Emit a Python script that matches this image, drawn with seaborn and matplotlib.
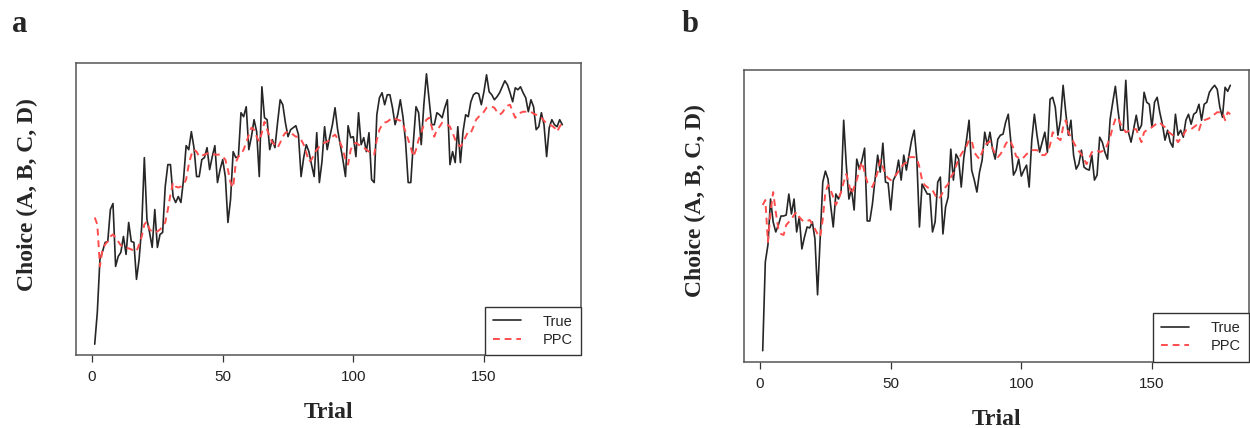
import matplotlib; matplotlib.use('Agg')
import numpy as np
import pandas as pd
import seaborn as sns
import matplotlib.pyplot as plt

# trial index shared by both panels
trials = list(range(1, 181))

# panel a: observed choice score vs posterior predictive check (arbitrary units)
true_a = [
    10, 42, 95, 103, 112, 113, 145, 151, 88, 98,
    102, 118, 100, 132, 113, 112, 75, 95, 128, 197,
    135, 122, 107, 145, 107, 120, 122, 168, 190, 190,
    158, 152, 158, 152, 175, 209, 205, 223, 207, 178,
    178, 195, 197, 207, 185, 198, 209, 172, 185, 195,
    178, 132, 155, 203, 197, 198, 242, 238, 248, 205,
    218, 235, 223, 178, 268, 237, 235, 205, 215, 207,
    232, 255, 250, 232, 218, 225, 227, 229, 220, 178,
    197, 210, 203, 190, 178, 222, 172, 193, 228, 205,
    218, 230, 247, 225, 210, 195, 178, 229, 217, 218,
    198, 242, 210, 217, 203, 222, 175, 172, 240, 257,
    262, 250, 260, 260, 247, 230, 240, 255, 238, 213,
    172, 172, 213, 248, 242, 210, 250, 281, 255, 230,
    230, 242, 240, 237, 247, 255, 190, 203, 192, 228,
    192, 223, 240, 238, 253, 260, 262, 261, 250, 263,
    280, 263, 260, 255, 258, 262, 268, 274, 270, 262,
    253, 267, 265, 268, 262, 257, 243, 255, 248, 225,
    228, 242, 230, 198, 227, 235, 230, 228, 235, 230,
]
ppc_a = [
    137, 130, 88, 105, 110, 113, 118, 120, 117, 113,
    109, 108, 107, 106, 105, 104, 103, 110, 118, 130,
    133, 125, 123, 122, 123, 125, 128, 132, 145, 160,
    172, 168, 167, 168, 170, 175, 190, 200, 205, 203,
    198, 199, 200, 201, 202, 201, 200, 200, 200, 198,
    195, 185, 172, 167, 192, 198, 200, 205, 212, 220,
    227, 225, 218, 213, 222, 233, 225, 218, 212, 210,
    207, 212, 218, 222, 223, 222, 220, 218, 218, 215,
    210, 202, 193, 195, 200, 205, 208, 210, 212, 213,
    215, 218, 220, 216, 212, 205, 195, 190, 205, 210,
    212, 210, 208, 207, 205, 203, 201, 200, 215, 225,
    230, 232, 233, 235, 237, 236, 235, 234, 230, 223,
    215, 207, 198, 205, 215, 222, 230, 235, 237, 228,
    218, 225, 228, 232, 231, 230, 228, 222, 215, 210,
    208, 212, 218, 223, 222, 228, 235, 238, 240, 243,
    247, 248, 248, 247, 243, 240, 242, 246, 249, 250,
    243, 237, 240, 242, 243, 243, 243, 243, 241, 240,
    238, 237, 234, 231, 230, 229, 227, 223, 228, 232,
]

# panel b
true_b = [
    11, 100, 117, 163, 140, 130, 137, 146, 146, 147,
    168, 148, 163, 130, 145, 113, 125, 135, 134, 140,
    123, 67, 123, 180, 191, 183, 157, 135, 168, 163,
    170, 242, 197, 163, 173, 152, 203, 193, 202, 214,
    141, 141, 158, 183, 207, 190, 219, 180, 179, 152,
    182, 187, 202, 182, 207, 192, 207, 222, 232, 203,
    135, 178, 173, 168, 168, 130, 140, 180, 185, 128,
    155, 165, 213, 182, 208, 203, 175, 205, 222, 242,
    192, 182, 170, 190, 202, 230, 217, 230, 213, 203,
    223, 227, 228, 240, 248, 220, 187, 192, 203, 186,
    192, 197, 175, 222, 248, 227, 210, 220, 230, 210,
    263, 265, 255, 227, 242, 277, 250, 227, 242, 207,
    193, 198, 212, 195, 193, 192, 207, 182, 187, 225,
    220, 210, 203, 243, 260, 276, 252, 232, 232, 282,
    230, 220, 233, 247, 232, 237, 270, 260, 258, 235,
    260, 265, 250, 238, 222, 232, 220, 215, 248, 227,
    232, 225, 242, 248, 238, 248, 250, 258, 242, 258,
    260, 270, 274, 277, 273, 255, 245, 275, 271, 277,
]
ppc_b = [
    157, 162, 120, 150, 170, 150, 133, 128, 127, 137,
    140, 143, 147, 150, 145, 142, 140, 141, 142, 138,
    133, 128, 125, 143, 170, 177, 172, 165, 157, 163,
    170, 180, 188, 178, 168, 175, 182, 192, 200, 190,
    180, 178, 175, 182, 190, 202, 195, 187, 184, 182,
    185, 187, 191, 195, 198, 200, 205, 205, 205, 204,
    195, 182, 177, 175, 173, 172, 167, 163, 165, 170,
    175, 178, 185, 189, 196, 203, 208, 212, 216, 222,
    222, 210, 206, 203, 210, 217, 219, 221, 214, 208,
    205, 208, 212, 218, 222, 220, 214, 206, 204, 203,
    205, 208, 210, 212, 212, 212, 210, 207, 207, 210,
    217, 230, 227, 224, 222, 235, 242, 230, 225, 220,
    215, 211, 208, 203, 198, 204, 210, 211, 212, 210,
    211, 212, 218, 225, 235, 243, 245, 238, 234, 230,
    231, 233, 233, 233, 226, 220, 230, 232, 233, 235,
    237, 239, 240, 237, 235, 231, 229, 227, 224, 220,
    224, 227, 232, 232, 233, 235, 237, 232, 240, 242,
    243, 244, 247, 248, 250, 250, 250, 242, 250, 248,
]

panels = [('a', true_a, ppc_a), ('b', true_b, ppc_b)]
x_ticks = [0, 50, 100, 150]

sns.set_style('white')
plt.rcParams['font.family'] = ['Liberation Sans', 'DejaVu Sans']
serif = ['Liberation Serif', 'DejaVu Serif']

fig = plt.figure(figsize=(12.5, 4.28), dpi=100)
ax_rects = [
    [76 / 1250, 73 / 428, 505 / 1250, 292 / 428],
    [744 / 1250, 66.5 / 428, 505 / 1250, 292 / 428],
]
label_pos = [(12 / 1250, 1 - 24 / 428), (682 / 1250, 1 - 24 / 428)]

for (tag, y_true, y_ppc), rect, lp in zip(panels, ax_rects, label_pos):
    ax = fig.add_axes(rect)
    df = pd.DataFrame({'Trial': trials, 'True': y_true, 'PPC': y_ppc})
    sns.lineplot(data=df, x='Trial', y='True', ax=ax, color='#262626',
                 linewidth=1.2, label='True')
    sns.lineplot(data=df, x='Trial', y='PPC', ax=ax, color='#ff4d4d',
                 linewidth=1.4, linestyle=(0, (3.5, 2.5)), label='PPC')

    # R-style 4% padding on both axes
    xr = max(trials) - min(trials)
    ax.set_xlim(min(trials) - 0.04 * xr, max(trials) + 0.04 * xr)
    lo = min(min(y_true), min(y_ppc))
    hi = max(max(y_true), max(y_ppc))
    ax.set_ylim(lo - 0.04 * (hi - lo), hi + 0.04 * (hi - lo))

    ax.set_xticks(x_ticks)
    ax.set_xticklabels([str(t) for t in x_ticks], fontsize=11, color='#222222')
    ax.set_yticks([])
    ax.tick_params(axis='x', direction='out', length=5, width=0.9,
                   color='#333333', pad=6, bottom=True)
    for s in ax.spines.values():
        s.set_color('#555555')
        s.set_linewidth(1.1)

    ax.set_xlabel('Trial', fontsize=17, fontweight='bold', family=serif,
                  labelpad=13)
    ax.set_ylabel('Choice (A, B, C, D)', fontsize=17, fontweight='bold',
                  family=serif, labelpad=27)
    ax.yaxis.label.set_y(0.55)

    leg = ax.legend(loc='lower right', borderaxespad=0, fancybox=False,
                    framealpha=1, edgecolor='#333333', fontsize=10.5,
                    handlelength=1.9, handletextpad=1.5, borderpad=0.55,
                    labelspacing=0.3)
    leg.get_frame().set_linewidth(1.0)

    fig.text(lp[0], lp[1], tag, fontsize=22, fontweight='bold',
             family=serif, va='center')

fig.savefig('out.png', dpi=100)
